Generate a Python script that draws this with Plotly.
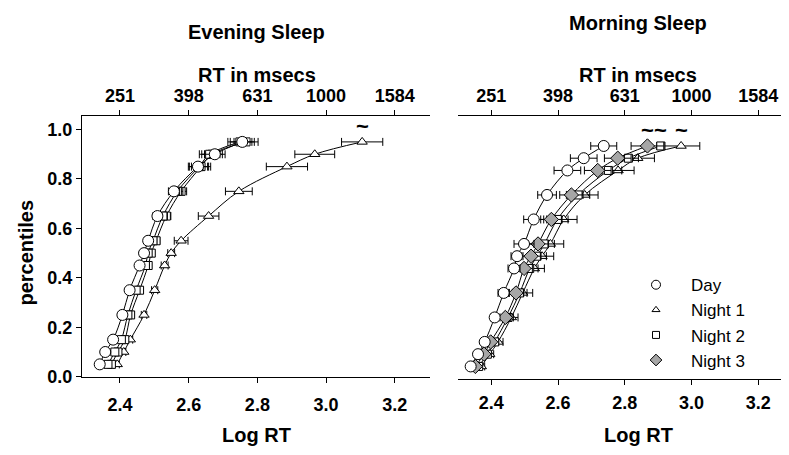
import plotly.graph_objects as go

# ---------------- data ----------------
percentiles = [0.05, 0.10, 0.15, 0.25, 0.35, 0.45, 0.50, 0.55, 0.65, 0.75, 0.85, 0.90, 0.95]
series_names = ["Day", "Night 1", "Night 2", "Night 3"]

# Evening Sleep (log RT)
eve_day = [2.341, 2.357, 2.380, 2.407, 2.428, 2.457, 2.470, 2.482, 2.509, 2.557, 2.627, 2.676, 2.756]
eve_n1 = [2.392, 2.411, 2.430, 2.470, 2.501, 2.530, 2.549, 2.578, 2.658, 2.746, 2.886, 2.967, 3.105]
eve_n2 = [2.365, 2.385, 2.404, 2.423, 2.447, 2.474, 2.482, 2.496, 2.525, 2.567, 2.630, 2.661, 2.749]
eve_n3 = [2.375, 2.394, 2.414, 2.431, 2.457, 2.482, 2.491, 2.505, 2.535, 2.578, 2.636, 2.668, 2.767]
eve_day_err = [0.006, 0.006, 0.007, 0.008, 0.009, 0.010, 0.010, 0.011, 0.013, 0.016, 0.028, 0.030, 0.035]
eve_n1_err = [0.006, 0.006, 0.007, 0.008, 0.009, 0.010, 0.010, 0.020, 0.030, 0.039, 0.060, 0.058, 0.060]
eve_n2_err = [0.006, 0.006, 0.007, 0.008, 0.009, 0.010, 0.010, 0.011, 0.013, 0.016, 0.028, 0.030, 0.035]
eve_n3_err = [0.006, 0.006, 0.007, 0.008, 0.009, 0.010, 0.010, 0.011, 0.013, 0.016, 0.028, 0.030, 0.035]

# Morning Sleep (log RT)
mor_day = [2.338, 2.360, 2.380, 2.410, 2.437, 2.468, 2.477, 2.498, 2.527, 2.567, 2.628, 2.677, 2.737]
mor_n1 = [2.370, 2.395, 2.420, 2.460, 2.494, 2.529, 2.552, 2.577, 2.617, 2.680, 2.780, 2.839, 2.969]
mor_n2 = [2.362, 2.388, 2.410, 2.450, 2.485, 2.515, 2.537, 2.559, 2.598, 2.660, 2.751, 2.811, 2.908]
mor_n3 = [2.352, 2.378, 2.398, 2.442, 2.474, 2.498, 2.519, 2.540, 2.580, 2.640, 2.719, 2.779, 2.868]
mor_day_err = [0.006, 0.008, 0.010, 0.012, 0.017, 0.018, 0.018, 0.030, 0.030, 0.028, 0.040, 0.040, 0.039]
mor_n1_err = [0.010, 0.012, 0.015, 0.020, 0.030, 0.030, 0.035, 0.040, 0.040, 0.040, 0.048, 0.050, 0.056]
mor_n2_err = [0.008, 0.010, 0.012, 0.016, 0.022, 0.025, 0.028, 0.030, 0.032, 0.035, 0.040, 0.030, 0.012]
mor_n3_err = [0.008, 0.010, 0.012, 0.016, 0.022, 0.025, 0.028, 0.030, 0.032, 0.035, 0.040, 0.040, 0.049]

# series flagged with "~" at the top percentile
eve_tilde = ["Night 1"]
mor_tilde = ["Night 3", "Night 2", "Night 1"]

logrt_ticks = [2.4, 2.6, 2.8, 3.0, 3.2]
logrt_labels = ["2.4", "2.6", "2.8", "3.0", "3.2"]
ms_labels = ["251", "398", "631", "1000", "1584"]
pct_ticks = [0.0, 0.2, 0.4, 0.6, 0.8, 1.0]

# ---------------- styles ----------------
FONT = "Liberation Sans, Arial, sans-serif"
tickf = dict(family=FONT, size=18, color="black", weight="bold")
titlef = dict(family=FONT, size=20, color="black", weight="bold")
styles = {
    "Day": dict(symbol="circle", size=11, color="white"),
    "Night 1": dict(symbol="triangle-up", size=9, color="white"),
    "Night 2": dict(symbol="square", size=8, color="white"),
    "Night 3": dict(symbol="diamond", size=11, color="#a6a6a6"),
}
eve_style = dict(styles)
eve_style["Night 3"] = dict(symbol="square", size=8, color="white")

fig = go.Figure()

def add_series(xs, errs, name, st, xa, ya):
    fig.add_trace(go.Scatter(
        x=xs, y=percentiles, mode="lines+markers", name=name, showlegend=False,
        line=dict(color="black", width=1, shape="spline", smoothing=1.0),
        marker=dict(symbol=st["symbol"], size=st["size"], color=st["color"],
                    line=dict(color="black", width=1)),
        error_x=dict(type="data", array=errs, color="black", thickness=1, width=4),
        xaxis=xa, yaxis=ya))

eve = {"Day": (eve_day, eve_day_err), "Night 1": (eve_n1, eve_n1_err),
       "Night 2": (eve_n2, eve_n2_err), "Night 3": (eve_n3, eve_n3_err)}
mor = {"Day": (mor_day, mor_day_err), "Night 1": (mor_n1, mor_n1_err),
       "Night 2": (mor_n2, mor_n2_err), "Night 3": (mor_n3, mor_n3_err)}

for n in ["Night 1", "Night 3", "Night 2", "Day"]:
    add_series(eve[n][0], eve[n][1], n, eve_style[n], "x", "y")
for n in ["Night 1", "Night 2", "Night 3", "Day"]:
    add_series(mor[n][0], mor[n][1], n, styles[n], "x2", "y2")

# empty traces so that the top (RT in msecs) axes get drawn
for xa, ya in [("x3", "y"), ("x4", "y2")]:
    fig.add_trace(go.Scatter(x=[None], y=[None], mode="markers", showlegend=False,
                             hoverinfo="skip", xaxis=xa, yaxis=ya))

# legend-only entries (smaller symbols as in the original legend)
legend_sizes = {"Day": 9, "Night 1": 7, "Night 2": 7, "Night 3": 9}
for n in series_names:
    st = styles[n]
    fig.add_trace(go.Scatter(
        x=[None], y=[None], mode="markers", name=n, showlegend=True,
        marker=dict(symbol=st["symbol"], size=legend_sizes[n], color=st["color"],
                    line=dict(color="black", width=1)),
        xaxis="x2", yaxis="y2"))

# tilde marks above flagged top-percentile points
tildef = dict(family=FONT, size=22, color="black", weight="bold")
for n in eve_tilde:
    fig.add_annotation(x=eve[n][0][-1], y=percentiles[-1], xref="x", yref="y",
                       text="~", showarrow=False, yshift=15, font=tildef)
for n in mor_tilde:
    fig.add_annotation(x=mor[n][0][-1], y=percentiles[-1], xref="x2", yref="y2",
                       text="~", showarrow=False, yshift=15, font=tildef)

W, H = 789, 455
def px(v): return v / W
def py(v): return 1 - v / H

axis_common = dict(showline=True, linecolor="black", linewidth=1, ticks="outside",
                   ticklen=5, tickwidth=1, tickcolor="black", showgrid=False,
                   zeroline=False, tickfont=tickf)

left_dom = [px(74), px(422)]
right_dom = [px(450), 1.0]
ydom_l = [py(377), py(110)]
ydom_r = [py(379), py(110)]

fig.update_layout(
    width=W, height=H, margin=dict(l=0, r=0, t=0, b=0),
    paper_bgcolor="white", plot_bgcolor="white",
    xaxis=dict(domain=left_dom, range=[2.2894, 3.3025], anchor="y",
               tickvals=logrt_ticks, ticktext=logrt_labels, ticklabelstandoff=7,
               **axis_common),
    xaxis3=dict(domain=left_dom, range=[2.2894, 3.3025], anchor="y", overlaying="x",
                side="top", tickvals=logrt_ticks, ticktext=ms_labels, **axis_common),
    yaxis=dict(domain=ydom_l, range=[0, 1.0565], anchor="x", tickvals=pct_ticks,
               tickformat=".1f", **axis_common),
    xaxis2=dict(domain=right_dom, range=[2.300, 3.3165], anchor="y2",
                tickvals=logrt_ticks, ticktext=logrt_labels, ticklabelstandoff=3,
                **axis_common),
    xaxis4=dict(domain=right_dom, range=[2.300, 3.3165], anchor="y2", overlaying="x2",
                side="top", tickvals=logrt_ticks, ticktext=ms_labels, **axis_common),
    yaxis2=dict(domain=ydom_r, range=[0, 1.074], anchor="x2", visible=False),
    showlegend=True,
    legend=dict(x=px(613), y=py(265), xanchor="left", yanchor="top",
                font=dict(family=FONT, size=17, color="black"),
                bgcolor="rgba(0,0,0,0)", itemwidth=60),
)

ann = [
    ("Evening Sleep", 249, 25, 0), ("Morning Sleep", 630, 15, 0),
    ("RT in msecs", 249, 68, 0), ("RT in msecs", 630, 68, 0),
    ("Log RT", 249, 437, 0), ("Log RT", 630, 437, 0),
    ("percentiles", 18, 250, -90),
]
for t, x, y, a in ann:
    fig.add_annotation(x=px(x), y=py(y), xref="paper", yref="paper", text=t,
                       showarrow=False, textangle=a, font=titlef,
                       xanchor="center", yanchor="middle")

fig.write_html("out.html")
